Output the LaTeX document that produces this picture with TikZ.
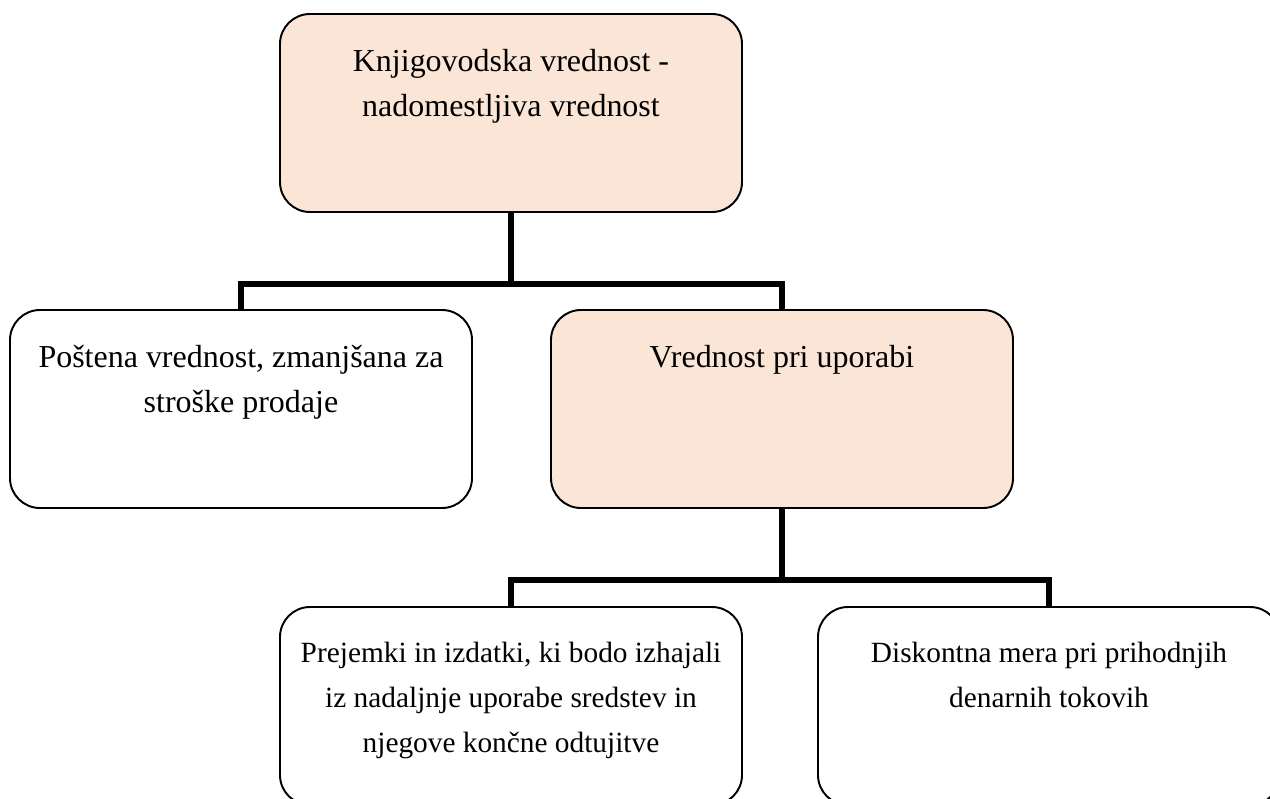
\documentclass[tikz,border=0pt]{standalone}
\usepackage{fontspec}
\setmainfont{Liberation Serif}
\definecolor{peach}{HTML}{FBE5D6}
\usetikzlibrary{positioning, calc}
\newcommand{\boxtxt}[1]{\parbox[c][3.96cm][t]{8.8cm}{\centering\vspace*{0.7cm}#1}}
\tikzset{
  vbox/.style={
    draw=black, fill=#1, rounded corners=0.6cm, line width=1.1pt,
    minimum width=9.24cm, minimum height=3.96cm, inner sep=0pt,
    font=\fontsize{16.7}{25.6}\selectfont, align=center
  },
  vbox/.default=white,
  bigtxt/.style={font=\fontsize{18.2}{25.6}\selectfont},
  link/.style={line width=3.2pt, color=black},
}

\begin{document}
\begin{tikzpicture}
    \useasboundingbox (0,0) rectangle (25.4,-15.96);

    \node[vbox=peach, bigtxt] (knjig) at (10.22,-2.26)
      {\boxtxt{Knjigovodska vrednost -\\nadomestljiva vrednost}};

    \node[vbox, bigtxt] (postena) at (4.82,-8.18)
      {\boxtxt{Poštena vrednost, zmanjšana za\\stroške prodaje}};

    \node[vbox=peach, bigtxt] (uporaba) at (15.64,-8.18)
      {\boxtxt{Vrednost pri uporabi}};

    \node[vbox] (prejemki) at (10.22,-14.12)
      {\boxtxt{Prejemki in izdatki, ki bodo izhajali\\iz nadaljnje uporabe sredstev in\\njegove končne odtujitve}};

    \node[vbox] (diskont) at (20.98,-14.12)
      {\boxtxt{Diskontna mera pri prihodnjih\\denarnih tokovih}};

    \coordinate (bus1) at (0,-5.68);
    \coordinate (bus2) at (0,-11.6);

    \draw[link] (knjig.south) -- (knjig.south |- bus1);
    \draw[link] (postena.north) |- (knjig.south |- bus1) -| (uporaba.north);
    \draw[link] (uporaba.south) -- (uporaba.south |- bus2);
    \draw[link] (prejemki.north) |- (uporaba.south |- bus2) -| (diskont.north);
  \end{tikzpicture}
\end{document}
